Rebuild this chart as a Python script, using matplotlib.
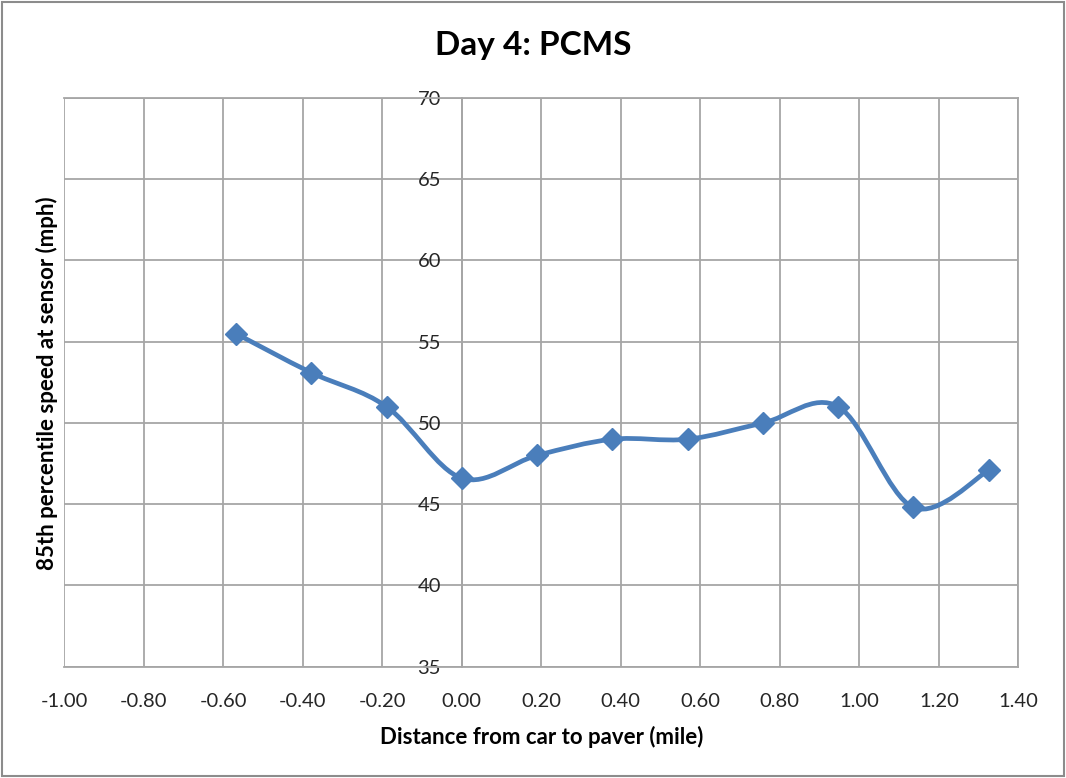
import matplotlib
matplotlib.use("Agg")
import matplotlib.pyplot as plt
from matplotlib.path import Path
from matplotlib.patches import PathPatch, Rectangle
import numpy as np

# Data
distance_mile = [-0.568, -0.379, -0.189, 0.0, 0.189, 0.379, 0.568, 0.758, 0.947, 1.136, 1.326]
speed_85th = [55.5, 53.1, 51.0, 46.6, 48.0, 49.0, 49.0, 50.0, 51.0, 44.8, 47.1]
x_ticks = [-1.0, -0.8, -0.6, -0.4, -0.2, 0.0, 0.2, 0.4, 0.6, 0.8, 1.0, 1.2, 1.4]
y_ticks = [35, 40, 45, 50, 55, 60, 65, 70]

title = "Day 4: PCMS"
xlabel = "Distance from car to paver (mile)"
ylabel = "85th percentile speed at sensor (mph)"

FONT = "Lato"
GRID = "#A6A6A6"
BLUE = "#4A7EBB"
TICK_FS = 14.5

fig = plt.figure(figsize=(10.66, 7.78), dpi=100)
fig.patch.set_facecolor("white")
# outer chart border
fig.patches.append(Rectangle((0.002, 0.003), 0.996, 0.994, transform=fig.transFigure,
                             fill=False, edgecolor="#8C8C8C", linewidth=1.5))

ax = fig.add_axes([0.0603, 0.1431, 0.8950, 0.7309])
ax.spines["left"].set_position(("data", 0.0))
ax.set_xlim(-1.0, 1.4)
ax.set_ylim(35, 70)
ax.set_xticks(x_ticks)
ax.set_yticks(y_ticks)
ax.set_xticklabels([f"{v:.2f}" for v in x_ticks])
ax.set_yticklabels([str(v) for v in y_ticks])
ax.tick_params(axis="both", length=0, labelsize=TICK_FS, labelcolor="#262626")
for lab in ax.get_xticklabels() + ax.get_yticklabels():
    lab.set_fontfamily(FONT)
ax.tick_params(axis="y", pad=15)
ax.tick_params(axis="x", pad=19)
ax.grid(True, color=GRID, linewidth=1.3)
ax.set_axisbelow(True)
for s in ax.spines.values():
    s.set_color(GRID)
    s.set_linewidth(1.3)

# Excel-like smoothed line (Catmull-Rom style bezier)
pts = np.column_stack([distance_mile, speed_85th])
n = len(pts)
verts = [tuple(pts[0])]
codes = [Path.MOVETO]
for i in range(n - 1):
    p0 = pts[i - 1] if i > 0 else pts[i]
    p1 = pts[i]
    p2 = pts[i + 1]
    p3 = pts[i + 2] if i + 2 < n else pts[i + 1]
    c1 = p1 + (p2 - p0) / 6.0
    c2 = p2 - (p3 - p1) / 6.0
    verts += [tuple(c1), tuple(c2), tuple(p2)]
    codes += [Path.CURVE4] * 3
ax.add_patch(PathPatch(Path(verts, codes), facecolor="none", edgecolor=BLUE,
                       linewidth=3.4, capstyle="round", joinstyle="round", zorder=3))
ax.plot(distance_mile, speed_85th, linestyle="none", marker="D", markersize=11.5,
        color=BLUE, zorder=4)

fig.text(0.5, 0.941, title, ha="center", va="center", fontfamily=FONT,
         fontweight="bold", fontsize=24)
fig.text(0.508, 0.053, xlabel, ha="center", va="center", fontfamily=FONT,
         fontweight="bold", fontsize=16)
fig.text(0.044, 0.508, ylabel, ha="center", va="center", rotation=90,
         fontfamily=FONT, fontweight="bold", fontsize=16)

fig.savefig("out.png", dpi=100, facecolor="white")
